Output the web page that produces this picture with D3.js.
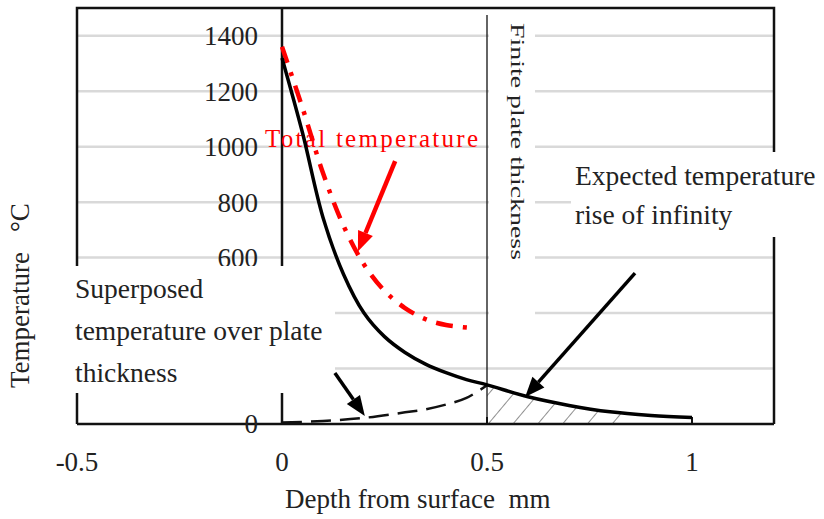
<!DOCTYPE html>
<html lang="en">
<head>
<meta charset="UTF-8">
<title>Temperature vs depth</title>
<script src="https://d3js.org/d3.v7.min.js"></script>
<style>
    body {
        margin: 0;
        padding: 0;
        background: #fff;
    }
    svg {
        display: block;
        font-family: 'Liberation Serif', 'Times New Roman', serif;
    }
    .grid line {
        stroke: #d9d9d9;
        stroke-width: 2.5;
    }
    .tick-label {
        font-size: 27px;
        fill: #222;
    }
    .note {
        font-size: 27.5px;
        fill: #222;
    }
</style>
</head>
<body>
<svg></svg>
<script>
    // axis ticks
    const depthTicks = [-0.5, 0, 0.5, 1];
    const depthTickLabels = ["-0.5", "0", "0.5", "1"];
    const tempTicks = [0, 200, 400, 600, 800, 1000, 1200, 1400];
    const hiddenTempLabels = [200, 400]; // covered by the note box in the original

    // expected temperature (solid black)
    const solidDepth = [0, 0.05, 0.1, 0.15, 0.2, 0.25, 0.3, 0.35, 0.4, 0.45, 0.5, 0.6, 0.7, 0.8, 0.9, 1.0];
    const solidTemp = [1320, 1050, 745, 540, 400, 315, 258, 216, 185, 160, 141, 98, 67, 44, 31, 23];

    // total temperature (red dash-dot)
    const totalDepth = [0, 0.05, 0.1, 0.15, 0.2, 0.25, 0.3, 0.35, 0.4, 0.475];
    const totalTemp = [1360, 1140, 905, 715, 575, 480, 418, 378, 357, 345];

    // superposed temperature (dashed black)
    const superDepth = [0, 0.1, 0.2, 0.3, 0.35, 0.4, 0.45, 0.5];
    const superTemp = [5, 11, 22, 42, 53, 70, 94, 140];

    // hatched part: rise beyond the finite plate
    const hatchRange = [0.5, 0.85];
    const plateThickness = 0.5;

    const W = 824, H = 519;
    const margin = { top: 8, right: 50, bottom: 95, left: 77 };

    const svg = d3.select("svg").attr("width", W).attr("height", H);

    const x = d3.scaleLinear().domain([-0.5, 1.2]).range([margin.left, W - margin.right]);
    const y = d3.scaleLinear().domain([0, 1500]).range([H - margin.bottom, margin.top]);

    const zip = (a, b) => a.map((d, i) => [d, b[i]]);

    // gridlines
    svg.append("g").attr("class", "grid")
        .selectAll("line")
        .data(tempTicks.filter(t => t > 0))
        .join("line")
        .attr("x1", x(-0.5)).attr("x2", x(1.2))
        .attr("y1", d => y(d)).attr("y2", d => y(d));

    // frame
    svg.append("path")
        .attr("d", `M${x(-0.5)},${y(0)}V${y(1500)}H${x(1.2)}V${y(0)}`)
        .attr("fill", "none").attr("stroke", "#111").attr("stroke-width", 2.5);

    // y axis at depth 0
    svg.append("line")
        .attr("x1", x(0)).attr("x2", x(0))
        .attr("y1", y(1500)).attr("y2", y(0))
        .attr("stroke", "#111").attr("stroke-width", 2.5);

    // plate thickness line
    svg.append("line")
        .attr("x1", x(plateThickness)).attr("x2", x(plateThickness))
        .attr("y1", y(1475)).attr("y2", y(0))
        .attr("stroke", "#111").attr("stroke-width", 1.3);

    // x axis + ticks
    svg.append("line")
        .attr("x1", x(-0.5)).attr("x2", x(1.2))
        .attr("y1", y(0)).attr("y2", y(0))
        .attr("stroke", "#111").attr("stroke-width", 2.5);
    svg.append("g").selectAll("line")
        .data(depthTicks)
        .join("line")
        .attr("x1", d => x(d)).attr("x2", d => x(d))
        .attr("y1", y(0)).attr("y2", y(0) - 7)
        .attr("stroke", "#111").attr("stroke-width", 2);

    // tick labels
    svg.append("g").selectAll("text")
        .data(tempTicks.filter(t => !hiddenTempLabels.includes(t)))
        .join("text")
        .attr("class", "tick-label")
        .attr("x", x(0) - 24)
        .attr("y", d => y(d))
        .attr("dy", "0.35em")
        .attr("text-anchor", "end")
        .text(d => d);

    svg.append("g").selectAll("text")
        .data(depthTicks)
        .join("text")
        .attr("class", "tick-label")
        .attr("x", d => x(d))
        .attr("y", y(0) + 47)
        .attr("text-anchor", "middle")
        .text((d, i) => depthTickLabels[i]);

    // white text boxes (they hide grid and axis parts like the original)
    const boxes = [
        { x0: 63, y0: 266, x1: 335, y1: 393 },
        { x0: 489, y0: 14, x1: 535, y1: 330 },
        { x0: 571, y0: 152, x1: 824, y1: 237 }
    ];
    svg.append("g").selectAll("rect")
        .data(boxes)
        .join("rect")
        .attr("x", d => d.x0).attr("y", d => d.y0)
        .attr("width", d => d.x1 - d.x0).attr("height", d => d.y1 - d.y0)
        .attr("fill", "#fff");

    // axis titles
    svg.append("text")
        .attr("class", "note")
        .attr("x", 285).attr("y", 508)
        .style("font-size", "27px")
        .style("white-space", "pre")
        .text("Depth from surface  mm");

    const yTitle = svg.append("text")
        .attr("class", "note")
        .attr("transform", "translate(29,388) rotate(-90)")
        .style("font-size", "27px");
    yTitle.append("tspan").text("Temperature");
    yTitle.append("tspan").attr("dx", 20).text("°C");

    // annotations
    svg.append("text")
        .attr("x", 265).attr("y", 147)
        .attr("fill", "#ff0000")
        .attr("textLength", 213)
        .attr("lengthAdjust", "spacing")
        .style("font-size", "25px")
        .text("Total temperature");

    svg.append("text")
        .attr("class", "note")
        .attr("transform", "translate(511,23) rotate(90)")
        .attr("textLength", 237)
        .attr("lengthAdjust", "spacingAndGlyphs")
        .style("font-size", "19px")
        .text("Finite plate thickness");

    const expLines = ["Expected temperature", "rise of infinity"];
    svg.append("g").selectAll("text")
        .data(expLines)
        .join("text")
        .attr("class", "note")
        .attr("x", 575)
        .attr("y", (d, i) => 185 + i * 39)
        .text(d => d);

    const supLines = ["Superposed", "temperature over plate", "thickness"];
    svg.append("g").selectAll("text")
        .data(supLines)
        .join("text")
        .attr("class", "note")
        .attr("x", 75)
        .attr("y", (d, i) => 298 + i * 42)
        .text(d => d);

    // hatch pattern
    const defs = svg.append("defs");
    const pat = defs.append("pattern")
        .attr("id", "hatch")
        .attr("patternUnits", "userSpaceOnUse")
        .attr("width", 19).attr("height", 19)
        .attr("patternTransform", "rotate(40)");
    pat.append("line")
        .attr("x1", 0).attr("y1", 0).attr("x2", 0).attr("y2", 19)
        .attr("stroke", "#222").attr("stroke-width", 1);
    defs.append("clipPath").attr("id", "hatch-clip")
        .append("rect")
        .attr("x", x(hatchRange[0])).attr("y", y(1500))
        .attr("width", x(hatchRange[1]) - x(hatchRange[0]))
        .attr("height", y(0) - y(1500));

    const area = d3.area()
        .x(d => x(d[0])).y0(y(0)).y1(d => y(d[1]))
        .curve(d3.curveCatmullRom);
    svg.append("path")
        .datum(zip(solidDepth, solidTemp))
        .attr("d", area)
        .attr("fill", "url(#hatch)")
        .attr("clip-path", "url(#hatch-clip)");

    // curves
    const line = d3.line()
        .x(d => x(d[0])).y(d => y(d[1]))
        .curve(d3.curveCatmullRom);

    svg.append("path")
        .datum(zip(superDepth, superTemp))
        .attr("d", line)
        .attr("fill", "none").attr("stroke", "#111")
        .attr("stroke-width", 2.5)
        .attr("stroke-dasharray", "20,9");

    svg.append("path")
        .datum(zip(totalDepth, totalTemp))
        .attr("d", line)
        .attr("fill", "none").attr("stroke", "#ff0000")
        .attr("stroke-width", 4.5)
        .attr("stroke-dasharray", "17,10,4,10");

    svg.append("path")
        .datum(zip(solidDepth, solidTemp))
        .attr("d", line)
        .attr("fill", "none").attr("stroke", "#000")
        .attr("stroke-width", 3.5);

    // arrows [from depth, from temp, to depth, to temp]
    const arrows = [
        { from: [0.276, 948], to: [0.185, 622], color: "#ff0000", w: 4.5 },
        { from: [0.861, 544], to: [0.593, 97], color: "#000", w: 3.5 },
        { from: [0.129, 184], to: [0.202, 29], color: "#000", w: 3.5 }
    ];
    arrows.forEach(a => {
        const x1 = x(a.from[0]), y1 = y(a.from[1]);
        const x2 = x(a.to[0]), y2 = y(a.to[1]);
        const ang = Math.atan2(y2 - y1, x2 - x1);
        const len = 20, half = 8;
        const bx = x2 - len * Math.cos(ang), by = y2 - len * Math.sin(ang);
        svg.append("line")
            .attr("x1", x1).attr("y1", y1).attr("x2", bx).attr("y2", by)
            .attr("stroke", a.color).attr("stroke-width", a.w);
        const px = -Math.sin(ang) * half, py = Math.cos(ang) * half;
        svg.append("polygon")
            .attr("points", [[x2, y2], [bx + px, by + py], [bx - px, by - py]].map(p => p.join(",")).join(" "))
            .attr("fill", a.color);
    });
</script>
</body>
</html>
